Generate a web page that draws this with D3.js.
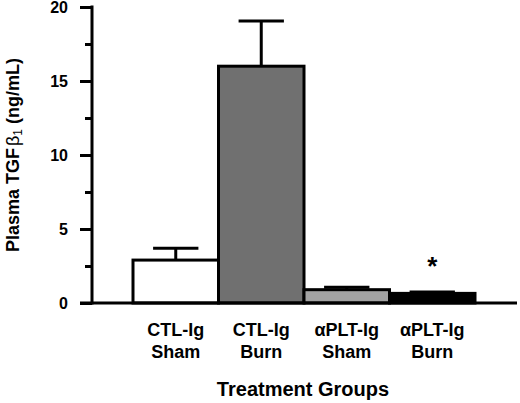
<!DOCTYPE html>
<html>
<head>
<meta charset="utf-8">
<script src="https://cdn.jsdelivr.net/npm/d3@7"></script>
<style>
  html, body { margin: 0; padding: 0; background: #fff; }
  svg { display: block; font-family: "Liberation Sans", Arial, sans-serif; font-weight: bold; }
</style>
</head>
<body>
<svg id="chart" width="520" height="403"></svg>
<script>
const groupLine1 = ["CTL-Ig", "CTL-Ig", "\u03b1PLT-Ig", "\u03b1PLT-Ig"];
const groupLine2 = ["Sham", "Burn", "Sham", "Burn"];
const means = [2.9, 16.0, 0.9, 0.65];
const sems = [0.8, 3.05, 0.16, 0.09];
const fills = ["#ffffff", "#707070", "#a3a3a3", "#000000"];
const significant = [false, false, false, true];
const yMajorTicks = [0, 5, 10, 15, 20];
const yMinorTicks = [2.5, 7.5, 12.5, 17.5];

const svg = d3.select("#chart");
const ids = d3.range(groupLine1.length);

const x = d3.scaleBand().domain(ids).range([133, 475]).paddingInner(0).paddingOuter(0);
const y = d3.scaleLinear().domain([0, 20]).range([303, 7]);
const axisX = 92;

// Bars
svg.append("g").selectAll("rect").data(ids).join("rect")
  .attr("x", d => x(d))
  .attr("y", d => y(means[d]))
  .attr("width", x.bandwidth())
  .attr("height", d => y(0) - y(means[d]))
  .attr("fill", d => fills[d])
  .attr("stroke", "#000")
  .attr("stroke-width", 3);

// Error bars (upper only)
const eb = svg.append("g").attr("stroke", "#000").attr("stroke-width", 3);
ids.forEach(d => {
  const cx = x(d) + x.bandwidth() / 2;
  const capW = x.bandwidth() * 0.53;
  eb.append("line").attr("x1", cx).attr("x2", cx)
    .attr("y1", y(means[d])).attr("y2", y(means[d] + sems[d]));
  eb.append("line").attr("x1", cx - capW / 2).attr("x2", cx + capW / 2)
    .attr("y1", y(means[d] + sems[d])).attr("y2", y(means[d] + sems[d]));
});

// Significance markers
svg.append("g").selectAll("text").data(ids.filter(d => significant[d])).join("text")
  .attr("x", d => x(d) + x.bandwidth() / 2)
  .attr("y", 275)
  .attr("text-anchor", "middle")
  .attr("font-size", 26)
  .text("*");

// Y axis
const yAxis = d3.axisLeft(y).tickValues(yMajorTicks).tickSize(12).tickPadding(12).tickFormat(d3.format("d"));
const gy = svg.append("g").attr("transform", `translate(${axisX},0)`).call(yAxis);
gy.select(".domain").remove();
gy.selectAll(".tick line").attr("stroke", "#000").attr("stroke-width", 3);
gy.selectAll(".tick text").attr("font-size", 16).attr("font-weight", "bold")
  .attr("font-family", "Liberation Sans, Arial, sans-serif").attr("fill", "#000")
  .attr("dy", "0.36em");
const yMinor = d3.axisLeft(y).tickValues(yMinorTicks).tickSize(7).tickFormat("");
const gm = svg.append("g").attr("transform", `translate(${axisX},0)`).call(yMinor);
gm.select(".domain").remove();
gm.selectAll(".tick line").attr("stroke", "#000").attr("stroke-width", 3);

svg.append("line").attr("x1", axisX).attr("x2", axisX)
  .attr("y1", y(0) + 1.5).attr("y2", y(20) - 1.5)
  .attr("stroke", "#000").attr("stroke-width", 3);
// X axis line
svg.append("line").attr("x1", 80).attr("x2", 517)
  .attr("y1", y(0)).attr("y2", y(0))
  .attr("stroke", "#000").attr("stroke-width", 3);

// Category labels
const cl = svg.append("g").attr("font-size", 18).attr("text-anchor", "middle");
ids.forEach(d => {
  const cx = x(d) + x.bandwidth() / 2;
  cl.append("text").attr("x", cx).attr("y", 336).text(groupLine1[d]);
  cl.append("text").attr("x", cx).attr("y", 358).text(groupLine2[d]);
});

// X title
svg.append("text").attr("x", 303).attr("y", 396).attr("text-anchor", "middle")
  .attr("font-size", 20).text("Treatment Groups");

// Y title
const yt = svg.append("text").attr("transform", "translate(19,155) rotate(-90)")
  .attr("text-anchor", "middle").attr("font-size", 18);
yt.append("tspan").text("Plasma TGF");
yt.append("tspan").attr("font-weight", "normal").attr("dx", 2).text("\u03b2");
yt.append("tspan").attr("font-weight", "normal").attr("font-size", 12).attr("dy", 3).text("1");
yt.append("tspan").attr("dy", -3).text(" (ng/mL)");
</script>
</body>
</html>
